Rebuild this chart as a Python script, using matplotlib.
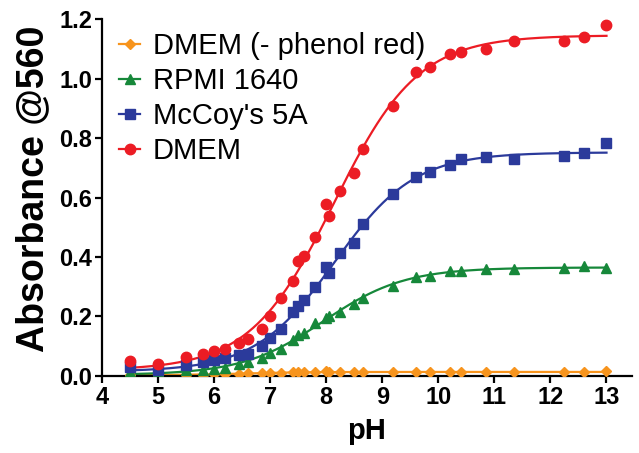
import numpy as np
import matplotlib
matplotlib.use("Agg")
import matplotlib.pyplot as plt

plt.rcParams['font.family'] = ['Liberation Sans', 'DejaVu Sans']

# ---- data ----
ph = [4.5, 5.0, 5.5, 5.8, 6.0, 6.2, 6.45, 6.6, 6.85, 7.0, 7.2, 7.4, 7.5, 7.6, 7.8,
      8.0, 8.05, 8.25, 8.5, 8.65, 9.2, 9.6, 9.85, 10.2, 10.4, 10.85, 11.35, 12.25, 12.6, 13.0]

dmem_no_pr = [0.003, 0.004, 0.004, 0.005, 0.006, 0.007, 0.008, 0.009, 0.010, 0.010,
              0.011, 0.012, 0.012, 0.012, 0.013, 0.016, 0.014, 0.012, 0.012, 0.013,
              0.012, 0.013, 0.012, 0.013, 0.013, 0.015, 0.013, 0.013, 0.015, 0.017]

rpmi = [0.015, 0.015, 0.020, 0.020, 0.023, 0.026, 0.040, 0.048, 0.059, 0.076,
        0.090, 0.121, 0.138, 0.146, 0.179, 0.194, 0.202, 0.216, 0.242, 0.261,
        0.302, 0.334, 0.337, 0.353, 0.353, 0.361, 0.361, 0.362, 0.371, 0.362]

mccoy = [0.031, 0.020, 0.037, 0.048, 0.054, 0.059, 0.070, 0.075, 0.102, 0.127,
         0.157, 0.216, 0.235, 0.255, 0.300, 0.367, 0.347, 0.412, 0.448, 0.510,
         0.611, 0.670, 0.685, 0.708, 0.729, 0.735, 0.729, 0.739, 0.748, 0.782]

dmem = [0.050, 0.039, 0.063, 0.073, 0.084, 0.090, 0.110, 0.123, 0.157, 0.200,
        0.262, 0.320, 0.387, 0.403, 0.468, 0.578, 0.539, 0.623, 0.683, 0.763,
        0.909, 1.021, 1.038, 1.082, 1.090, 1.099, 1.127, 1.126, 1.140, 1.180]

labels = ["DMEM (- phenol red)", "RPMI 1640", "McCoy's 5A", "DMEM"]
colors = ["#F7941D", "#16883A", "#2B3A9B", "#EC1C24"]
markers = ["D", "^", "s", "o"]
msizes = [5.0, 7.0, 6.5, 7.5]

xticks = list(range(4, 14))
yticks = [0.0, 0.2, 0.4, 0.6, 0.8, 1.0, 1.2]


def sigmoid_fit(x, y):
    """Least-squares fit of a 4-parameter logistic (pKa, Hill slope grid + linear bottom/top)."""
    x = np.asarray(x, float)
    y = np.asarray(y, float)
    pkas = np.linspace(6.0, 10.5, 451)[:, None, None]
    hs = np.linspace(0.2, 2.0, 181)[None, :, None]
    s = 1.0 / (1.0 + 10 ** ((pkas - x[None, None, :]) * hs))
    sm = s.mean(axis=2, keepdims=True)
    ym = y.mean()
    cov = ((s - sm) * (y - ym)).sum(axis=2, keepdims=True)
    var = ((s - sm) ** 2).sum(axis=2, keepdims=True) + 1e-12
    d = cov / var
    b = ym - d * sm
    sse = ((y - b - d * s) ** 2).sum(axis=2)
    i, j = np.unravel_index(np.argmin(sse), sse.shape)
    pk, h = pkas[i, 0, 0], hs[0, j, 0]
    bb, dd = b[i, j, 0], d[i, j, 0]
    return lambda xx: bb + dd / (1.0 + 10 ** ((pk - xx) * h))


fig = plt.figure(figsize=(6.39, 4.53), dpi=100)
ax = fig.add_axes([0.1596, 0.170, 0.829, 0.788])

xs = np.linspace(min(ph), max(ph), 400)
series = [dmem_no_pr, rpmi, mccoy, dmem]
for vals, lab, c, m, ms in zip(series, labels, colors, markers, msizes):
    f = sigmoid_fit(ph, vals)
    ax.plot(xs, f(xs), color=c, lw=1.6, zorder=2)
    ax.plot(ph, vals, linestyle='none', marker=m, color=c, ms=ms, zorder=3)
    ax.plot([], [], color=c, lw=1.6, marker=m, ms=ms, label=lab)

ax.set_xlim(4, 13.45)
ax.set_ylim(0, 1.2)
ax.set_xticks(xticks)
ax.set_yticks(yticks)
ax.set_yticklabels([f"{v:.1f}" for v in yticks])
for side in ("top", "right"):
    ax.spines[side].set_visible(False)
for side in ("left", "bottom"):
    ax.spines[side].set_linewidth(1.6)
ax.tick_params(axis='both', direction='out', length=5, width=1.6, labelsize=17, pad=2)
for t in ax.get_xticklabels() + ax.get_yticklabels():
    t.set_fontweight('bold')

ax.set_xlabel("pH", fontsize=21, fontweight='bold', labelpad=6)
ax.set_ylabel("Absorbance @560", fontsize=27, fontweight='bold')
ax.yaxis.set_label_coords(-0.096, 0.524)

leg = ax.legend(loc='upper left', bbox_to_anchor=(0.0, 1.012), frameon=False,
                fontsize=21, handlelength=0.7, handletextpad=0.45,
                labelspacing=0.24, borderaxespad=0.2)

fig.savefig("out.png", dpi=100)
